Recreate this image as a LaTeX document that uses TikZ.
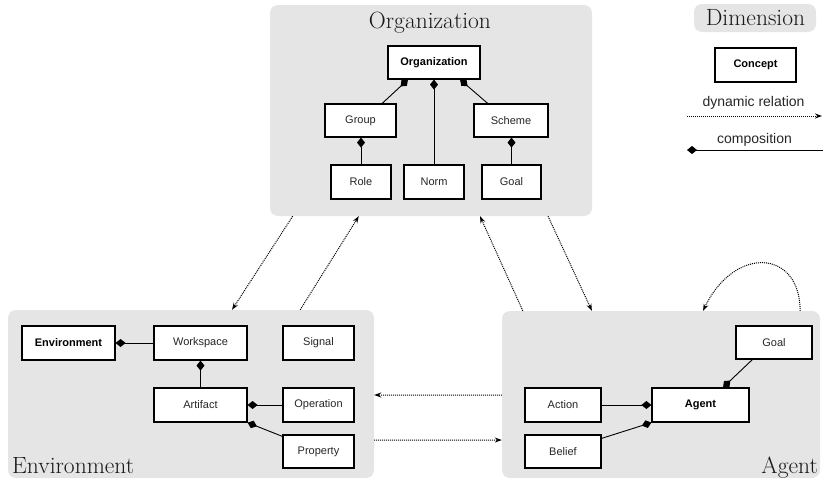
\documentclass[tikz,border=0pt]{standalone}
\usepackage{fontspec}
\newfontfamily\lsans{Liberation Sans}
\usetikzlibrary{arrows.meta,calc}
\begin{document}
\begin{tikzpicture}[x=1pt,y=-1pt,
  region/.style={fill=black!10,rounded corners=8pt,inner sep=0pt},
  concept/.style={draw,line width=1.2pt,fill=white,inner sep=0pt,
    font=\lsans\fontsize{11}{13}\selectfont,text=black!85},
  keyconcept/.style={concept,font=\lsans\bfseries\fontsize{11}{13}\selectfont,text=black},
  title/.style={inner sep=0pt,font=\fontsize{23.5}{26}\selectfont,text=black!90},
  legendtext/.style={inner sep=0pt,font=\lsans\fontsize{14}{16}\selectfont,text=black!85},
  comp/.style={line width=0.9pt,-{Diamond[length=10pt,width=8pt]}},
  dyn/.style={densely dotted,line width=1pt,-{Stealth[length=7pt,width=5pt]}}]
\useasboundingbox (0,0) rectangle (823,479);

% regions
\node[region,minimum width=322pt,minimum height=211pt] (orgR) at (431,110.5) {};
\node[region,minimum width=122pt,minimum height=28pt] (dimR) at (755,18) {};
\node[region,minimum width=366pt,minimum height=168pt] (envR) at (191,394) {};
\node[region,minimum width=318pt,minimum height=167pt] (agR) at (661,394.5) {};

% titles
\node[title,anchor=base] (tOrg) at (430,28) {Organization};
\node[title,anchor=base] (tDim) at (755.5,26) {Dimension};
\node[title,anchor=base west] (tEnv) at (12,473) {Environment};
\node[title,anchor=base east] (tAg) at (818,473) {Agent};

% organization
\node[keyconcept,minimum width=92pt,minimum height=33pt] (org) at (434,62.5) {Organization};
\node[concept,minimum width=71pt,minimum height=33pt] (group) at (360.5,120.5) {Group};
\node[concept,minimum width=74pt,minimum height=33pt] (scheme) at (511,120.5) {Scheme};
\node[concept,minimum width=60pt,minimum height=34pt] (role) at (361,182) {Role};
\node[concept,minimum width=60pt,minimum height=34pt] (norm) at (434,182) {Norm};
\node[concept,minimum width=59pt,minimum height=34pt] (goalO) at (511.5,182) {Goal};

\draw[comp] ($(group.north west)!0.8!(group.north east)$) -- ($(org.south west)!0.22!(org.south east)$);
\draw[comp] (norm.north) -- (org.south);
\draw[comp] ($(scheme.north west)!0.19!(scheme.north east)$) -- ($(org.south west)!0.78!(org.south east)$);
\draw[comp] (role.north) -- (role.north |- group.south);
\draw[comp] (goalO.north) -- (goalO.north |- scheme.south);

% legend
\node[keyconcept,minimum width=81pt,minimum height=34pt] (concept) at (755.5,65) {Concept};
\node[legendtext] (ldyn) at (753.5,103) {dynamic relation};
\node[legendtext] (lcomp) at (754.5,140) {composition};
\coordinate (dynA) at (687,116);
\coordinate (dynB) at (822,116);
\coordinate (compA) at (823,150);
\coordinate (compB) at (687,150);
\draw[dyn] (dynA) -- (dynB);
\draw[comp] (compA) -- (compB);

% environment
\node[keyconcept,minimum width=93pt,minimum height=34pt] (envN) at (68.5,343) {Environment};
\node[concept,minimum width=93pt,minimum height=34pt] (workspace) at (200.5,343) {Workspace};
\node[concept,minimum width=71pt,minimum height=34pt] (signal) at (318.5,343) {Signal};
\node[concept,minimum width=93pt,minimum height=34pt] (artifact) at (200.5,405) {Artifact};
\node[concept,minimum width=71pt,minimum height=34pt] (operation) at (318.5,405) {Operation};
\node[concept,minimum width=71pt,minimum height=33pt] (property) at (318.5,451.5) {Property};

\draw[comp] (workspace.west) -- (envN.east);
\draw[comp] (artifact.north) -- (workspace.south);
\draw[comp] (operation.west) -- (artifact.east);
\draw[comp] ($(property.north west)+(0,2)$) -- (artifact.south east);

% agent
\node[concept,minimum width=76pt,minimum height=33pt] (goalA) at (774,342.5) {Goal};
\node[keyconcept,minimum width=97pt,minimum height=34pt] (agentN) at (700.5,405) {Agent};
\node[concept,minimum width=76pt,minimum height=34pt] (action) at (563,405) {Action};
\node[concept,minimum width=76pt,minimum height=33pt] (belief) at (563,451.5) {Belief};

\draw[comp] ($(goalA.south west)!0.22!(goalA.south east)$) -- ($(agentN.north west)!0.73!(agentN.north east)$);
\draw[comp] (action.east) -- (agentN.west);
\draw[comp] ($(belief.north east)+(0,4)$) -- (agentN.south west);

% dynamic relations
\draw[dyn] ($(orgR.south west)!0.071!(orgR.south east)$) -- ($(envR.north west)!0.612!(envR.north east)$);
\draw[dyn] ($(envR.north west)!0.798!(envR.north east)$) -- ($(orgR.south west)!0.276!(orgR.south east)$);
\draw[dyn] ($(agR.north west)!0.066!(agR.north east)$) -- ($(orgR.south west)!0.652!(orgR.south east)$);
\draw[dyn] ($(orgR.south west)!0.863!(orgR.south east)$) -- ($(agR.north west)!0.283!(agR.north east)$);
\draw[dyn] ($(agR.north west)!0.503!(agR.south west)$) -- ($(envR.north east)!0.506!(envR.south east)$);
\draw[dyn] ($(envR.north east)!0.774!(envR.south east)$) -- ($(agR.north west)!0.772!(agR.south west)$);
\draw[dyn] ($(agR.north west)!0.937!(agR.north east)$) .. controls +(0,-61) and +(32,-66) .. ($(agR.north west)!0.632!(agR.north east)$);
\end{tikzpicture}
\end{document}
